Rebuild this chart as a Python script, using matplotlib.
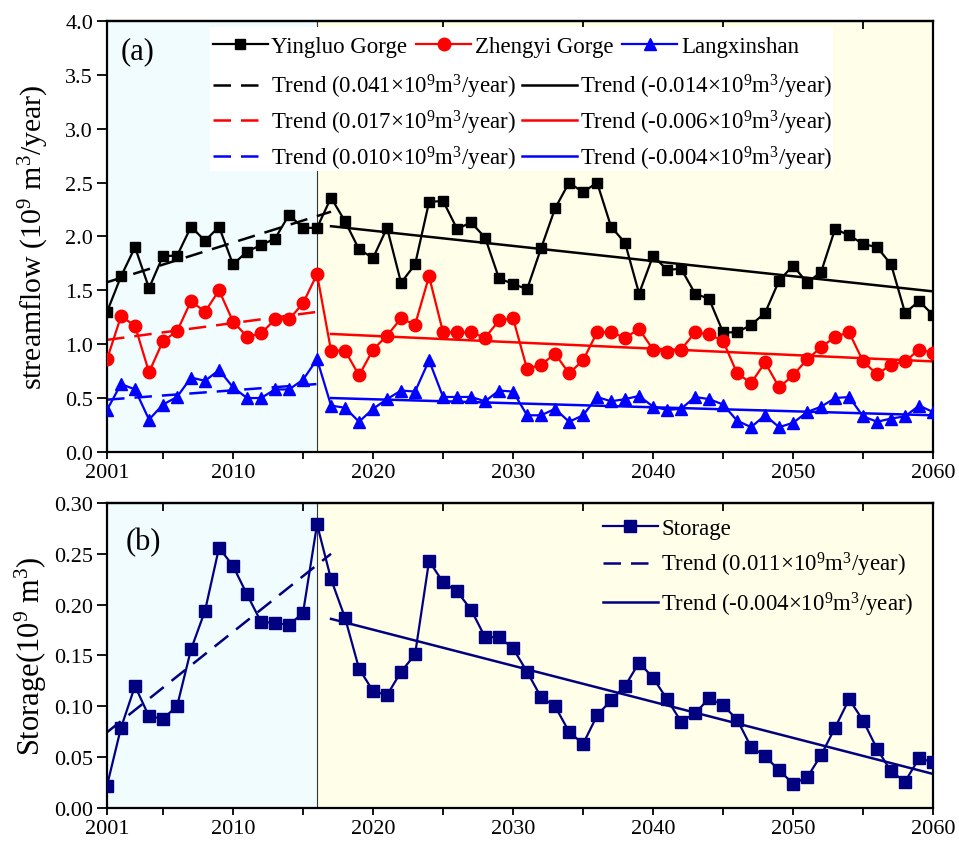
import matplotlib.pyplot as plt
import numpy as np
from matplotlib.lines import Line2D
from matplotlib.patches import Rectangle

plt.rcParams['font.family'] = 'Liberation Serif'
plt.rcParams['mathtext.fontset'] = 'custom'
plt.rcParams['mathtext.rm'] = 'Liberation Serif'
plt.rcParams['mathtext.it'] = 'Liberation Serif:italic'
plt.rcParams['mathtext.bf'] = 'Liberation Serif:bold'

years = np.arange(2001, 2061)

# annual streamflow, 10^9 m3/year
yingluo = [1.30, 1.63, 1.90, 1.52, 1.82, 1.82, 2.09, 1.96, 2.09, 1.74,
           1.86, 1.92, 1.98, 2.20, 2.08, 2.08, 2.36, 2.14, 1.88, 1.80,
           2.08, 1.57, 1.74, 2.32, 2.33, 2.07, 2.13, 1.99, 1.61, 1.56,
           1.51, 1.89, 2.26, 2.50, 2.41, 2.50, 2.09, 1.94, 1.47, 1.82,
           1.69, 1.70, 1.47, 1.42, 1.11, 1.11, 1.18, 1.29, 1.59, 1.73,
           1.57, 1.67, 2.07, 2.01, 1.93, 1.90, 1.74, 1.29, 1.40, 1.27]
zhengyi = [0.86, 1.26, 1.17, 0.74, 1.03, 1.12, 1.40, 1.30, 1.50, 1.21,
           1.07, 1.10, 1.23, 1.23, 1.38, 1.65, 0.94, 0.94, 0.71, 0.95,
           1.08, 1.24, 1.18, 1.63, 1.11, 1.11, 1.11, 1.06, 1.22, 1.24,
           0.77, 0.81, 0.91, 0.73, 0.85, 1.11, 1.11, 1.06, 1.14, 0.95,
           0.93, 0.95, 1.11, 1.09, 1.03, 0.73, 0.64, 0.83, 0.60, 0.71,
           0.86, 0.97, 1.07, 1.11, 0.84, 0.72, 0.81, 0.84, 0.95, 0.92]
langxin = [0.39, 0.63, 0.58, 0.30, 0.44, 0.51, 0.69, 0.66, 0.76, 0.60,
           0.50, 0.50, 0.58, 0.58, 0.67, 0.86, 0.43, 0.41, 0.28, 0.40,
           0.49, 0.57, 0.56, 0.85, 0.51, 0.51, 0.51, 0.47, 0.57, 0.56,
           0.34, 0.34, 0.40, 0.28, 0.34, 0.51, 0.47, 0.49, 0.52, 0.42,
           0.39, 0.40, 0.51, 0.49, 0.44, 0.29, 0.23, 0.34, 0.23, 0.27,
           0.37, 0.42, 0.50, 0.51, 0.33, 0.28, 0.31, 0.33, 0.43, 0.37]

# storage, 10^9 m3
storage = [0.022, 0.079, 0.120, 0.090, 0.088, 0.100, 0.156, 0.194, 0.256, 0.238,
           0.210, 0.183, 0.182, 0.180, 0.192, 0.279, 0.225, 0.187, 0.137, 0.115,
           0.111, 0.134, 0.151, 0.243, 0.222, 0.213, 0.195, 0.168, 0.168, 0.157,
           0.134, 0.109, 0.100, 0.075, 0.063, 0.091, 0.106, 0.120, 0.143, 0.128,
           0.107, 0.085, 0.093, 0.108, 0.101, 0.087, 0.060, 0.051, 0.037, 0.024,
           0.030, 0.052, 0.079, 0.107, 0.086, 0.058, 0.036, 0.026, 0.049, 0.045]

# trend line end points (year, value)
yl_pre_x, yl_pre_y = [2001, 2017], [1.575, 2.23]
yl_post_x, yl_post_y = [2017, 2060], [2.095, 1.49]
zy_pre_x, zy_pre_y = [2001, 2016], [1.04, 1.30]
zy_post_x, zy_post_y = [2017, 2060], [1.095, 0.84]
lx_pre_x, lx_pre_y = [2001, 2016], [0.485, 0.63]
lx_post_x, lx_post_y = [2017, 2060], [0.50, 0.34]
st_pre_x, st_pre_y = [2001, 2017], [0.0745, 0.25]
st_post_x, st_post_y = [2017, 2060], [0.186, 0.0335]

xticks = [2001, 2010, 2020, 2030, 2040, 2050, 2060]
minor_x = np.arange(2005, 2060, 10)

navy = '#000080'
dash = (7, 4)


def style_axis(ax, top_ticks):
    ax.axvspan(2001, 2016, color='#F1FCFE', zorder=0, lw=0)
    ax.axvspan(2016, 2060, color='#FFFEE8', zorder=0, lw=0)
    ax.axvline(2016, color='#333333', lw=0.8, zorder=1)
    ax.set_xlim(2001, 2060)
    ax.set_xticks(xticks)
    ax.set_xticks(minor_x, minor=True)
    ax.tick_params(axis='x', which='both', direction='out', length=5, width=1.3,
                   labelsize=16, pad=3, top=False)
    ax.tick_params(axis='y', direction='out', length=7, width=1.3,
                   labelsize=16, pad=3, right=False)
    for s in ax.spines.values():
        s.set_linewidth(1.6)
    sec = ax.secondary_xaxis('top')
    sec.set_xticks(top_ticks)
    sec.set_xticklabels([])
    sec.tick_params(direction='in', length=6, width=1.3)
    sec.spines['top'].set_linewidth(1.6)


fig = plt.figure(figsize=(9.59, 8.45), dpi=100)
ax1 = fig.add_axes([0.1116, 0.464, 0.8614, 0.510])
ax2 = fig.add_axes([0.1116, 0.0426, 0.8614, 0.361])

# (a) streamflow
style_axis(ax1, np.arange(2025, 2060, 10))
ax1.plot(years, yingluo, '-s', color='black', lw=1.6, ms=7.5, zorder=3)
ax1.plot(years, zhengyi, '-o', color='red', lw=1.6, ms=9, zorder=3)
ax1.plot(years, langxin, '-^', color='blue', lw=1.6, ms=9, zorder=3)
ax1.plot(yl_pre_x, yl_pre_y, color='black', lw=1.8, dashes=dash, zorder=2)
ax1.plot(yl_post_x, yl_post_y, color='black', lw=1.8, zorder=2)
ax1.plot(zy_pre_x, zy_pre_y, color='red', lw=1.8, dashes=dash, zorder=2)
ax1.plot(zy_post_x, zy_post_y, color='red', lw=1.8, zorder=2)
ax1.plot(lx_pre_x, lx_pre_y, color='blue', lw=1.8, dashes=dash, zorder=2)
ax1.plot(lx_post_x, lx_post_y, color='blue', lw=1.8, zorder=2)
ax1.set_ylim(0, 4.0)
ax1.set_yticks(np.arange(0, 4.01, 0.5))
ax1.set_yticklabels(['%.1f' % v for v in np.arange(0, 4.01, 0.5)])
ax1.set_ylabel(r'streamflow (10$^9$ m$^3$/year)', fontsize=21.5)
ax1.yaxis.set_label_coords(-0.068, 0.5)
ax1.text(0.016, 0.93, '(a)', transform=ax1.transAxes, fontsize=22, va='center')

ax1.add_patch(Rectangle((0.1247, 0.652), 0.754, 0.334, transform=ax1.transAxes,
                        facecolor='white', edgecolor='none', zorder=4))
series_handles = [
    Line2D([], [], color='black', marker='s', lw=1.6, ms=7.5),
    Line2D([], [], color='red', marker='o', lw=1.6, ms=9),
    Line2D([], [], color='blue', marker='^', lw=1.6, ms=9),
]
leg1 = ax1.legend(series_handles, ['Yingluo Gorge', 'Zhengyi Gorge', 'Langxinshan'],
                  loc='upper left', bbox_to_anchor=(0.128, 0.966), ncol=3,
                  frameon=False, fontsize=16.5, handlelength=2.4, handletextpad=0.15,
                  columnspacing=0.4, borderpad=0, borderaxespad=0)
leg1.set_zorder(5)
trend_handles = [
    Line2D([], [], color='black', lw=1.8, dashes=dash),
    Line2D([], [], color='black', lw=1.8),
    Line2D([], [], color='red', lw=1.8, dashes=dash),
    Line2D([], [], color='red', lw=1.8),
    Line2D([], [], color='blue', lw=1.8, dashes=dash),
    Line2D([], [], color='blue', lw=1.8),
]
trend_labels = [
    r'Trend (0.041×10$^9$m$^3$/year)', r'Trend (-0.014×10$^9$m$^3$/year)',
    r'Trend (0.017×10$^9$m$^3$/year)', r'Trend (-0.006×10$^9$m$^3$/year)',
    r'Trend (0.010×10$^9$m$^3$/year)', r'Trend (-0.004×10$^9$m$^3$/year)',
]
# legend fills column by column: reorder so rows pair pre/post trends
order = [0, 2, 4, 1, 3, 5]
leg2 = ax1.legend([trend_handles[i] for i in order], [trend_labels[i] for i in order],
                  loc='upper left', bbox_to_anchor=(0.128, 0.882), ncol=2,
                  frameon=False, fontsize=16.5, handlelength=2.4, handletextpad=0.15,
                  columnspacing=0.25, labelspacing=0.33, borderpad=0, borderaxespad=0)
leg2.set_zorder(5)
ax1.add_artist(leg1)

# (b) storage
style_axis(ax2, minor_x)
ax2.plot(years, storage, '-s', color=navy, lw=1.6, ms=8, zorder=3, label='Storage')
ax2.plot(st_pre_x, st_pre_y, color=navy, lw=1.8, dashes=dash, zorder=2,
         label=r'Trend (0.011×10$^9$m$^3$/year)')
ax2.plot(st_post_x, st_post_y, color=navy, lw=1.8, zorder=2,
         label=r'Trend (-0.004×10$^9$m$^3$/year)')
ax2.set_ylim(0, 0.30)
ax2.set_yticks(np.arange(0, 0.301, 0.05))
ax2.set_yticklabels(['%.2f' % v for v in np.arange(0, 0.301, 0.05)])
ax2.set_ylabel(r'Storage(10$^9$ m$^3$)', fontsize=22)
ax2.yaxis.set_label_coords(-0.070, 0.5)
ax2.text(0.022, 0.872, '(b)', transform=ax2.transAxes, fontsize=22, va='center')
ax2.legend(loc='upper left', bbox_to_anchor=(0.600, 0.952), frameon=False,
           fontsize=16.5, handlelength=2.4, handletextpad=0.15, labelspacing=0.5,
           borderpad=0, borderaxespad=0)

fig.savefig('out.png', dpi=100)
